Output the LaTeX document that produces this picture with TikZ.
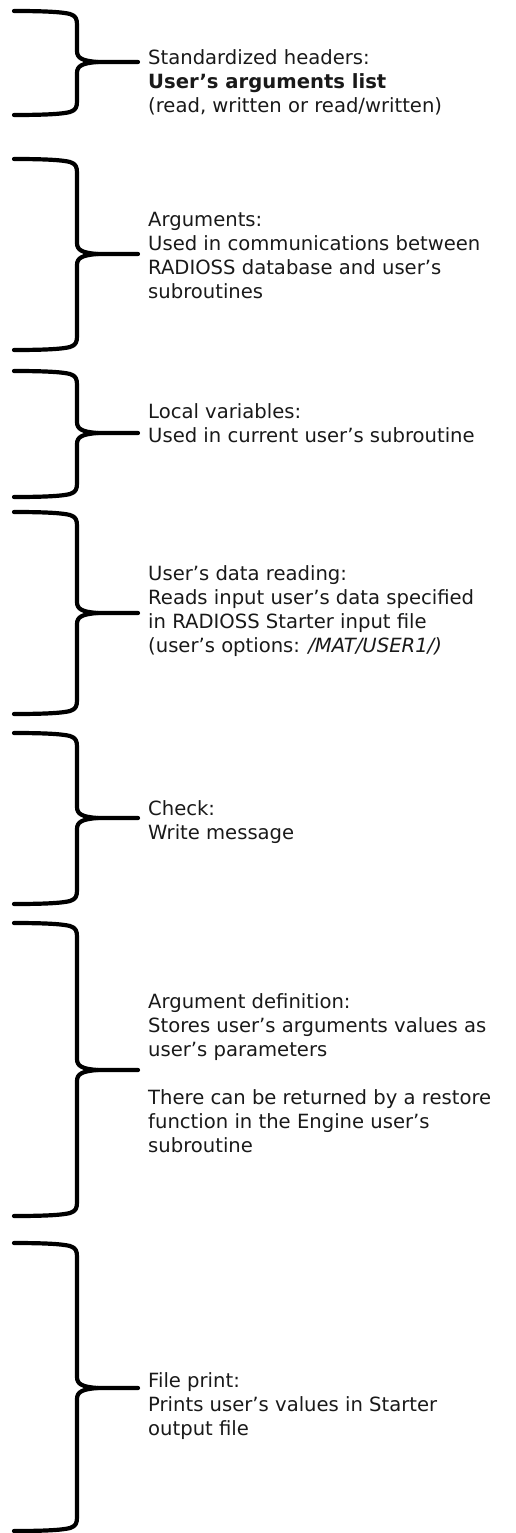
\documentclass[tikz,border=0pt]{standalone}
\usepackage{fontspec}
\setmainfont{DejaVu Sans}
\usepackage{tikz}
\usetikzlibrary{positioning}
\tikzstyle{bracket}=[line width=4.2pt,line cap=round,line join=round,black]
\tikzstyle{note}=[anchor=base west,inner sep=0pt,align=left,font=\fontsize{19.6}{24}\selectfont,text=black!90]
% #1 top, #2 tip, #3 bottom, #4 name of the tip
\newcommand{\bracket}[4]{%
  \coordinate (#4) at (138,#2);
  \draw[bracket] (14,#1) .. controls (45,#1) and (62,#1+1) .. (70,#1+3)
    .. controls (76,#1+5) and (77,#1+8) .. (77,#1+14) -- (77,#2-11)
    .. controls (77,#2-4) and (82,#2-1) .. (98,#2) -- (#4);
  \draw[bracket] (14,#3) .. controls (45,#3) and (62,#3-1) .. (70,#3-3)
    .. controls (76,#3-5) and (77,#3-8) .. (77,#3-14) -- (77,#2+11)
    .. controls (77,#2+4) and (82,#2+1) .. (98,#2);
}

\begin{document}
\begin{tikzpicture}[x=1pt,y=-1pt]
        \useasboundingbox (0,0) rectangle (515,1533);

        \bracket{11}{62}{115}{tipA}
        \bracket{159}{254}{350}{tipB}
        \bracket{371}{433}{497}{tipC}
        \bracket{512}{613}{714}{tipD}
        \bracket{733}{818}{904}{tipE}
        \bracket{923}{1070}{1216}{tipF}
        \bracket{1243}{1388}{1531}{tipG}

        % anchors sit on the last baseline of each note
        \node at (148,113)  [note] (headers) {Standardized headers:\\\textbf{User’s arguments list}\\(read, written or read/written)};
        \node at (148,298)  [note] (args)    {Arguments:\\Used in communications between\\RADIOSS database and user’s\\subroutines};
        \node at (148,442)  [note] (locvar)  {Local variables:\\Used in current user’s subroutine};
        \node at (148,652)  [note] (reading) {User’s data reading:\\Reads input user’s data specified\\in RADIOSS Starter input file\\(user’s options: \textit{/MAT/USER1/)}};
        \node at (148,839)  [note] (check)   {Check:\\Write message};
        \node at (148,1152) [note] (argdef)  {Argument definition:\\Stores user’s arguments values as\\user’s parameters\\[24pt]There can be returned by a restore\\function in the Engine user’s\\subroutine};
        \node at (148,1435) [note] (print)   {File print:\\Prints user’s values in Starter\\output file};
      \end{tikzpicture}
\end{document}
